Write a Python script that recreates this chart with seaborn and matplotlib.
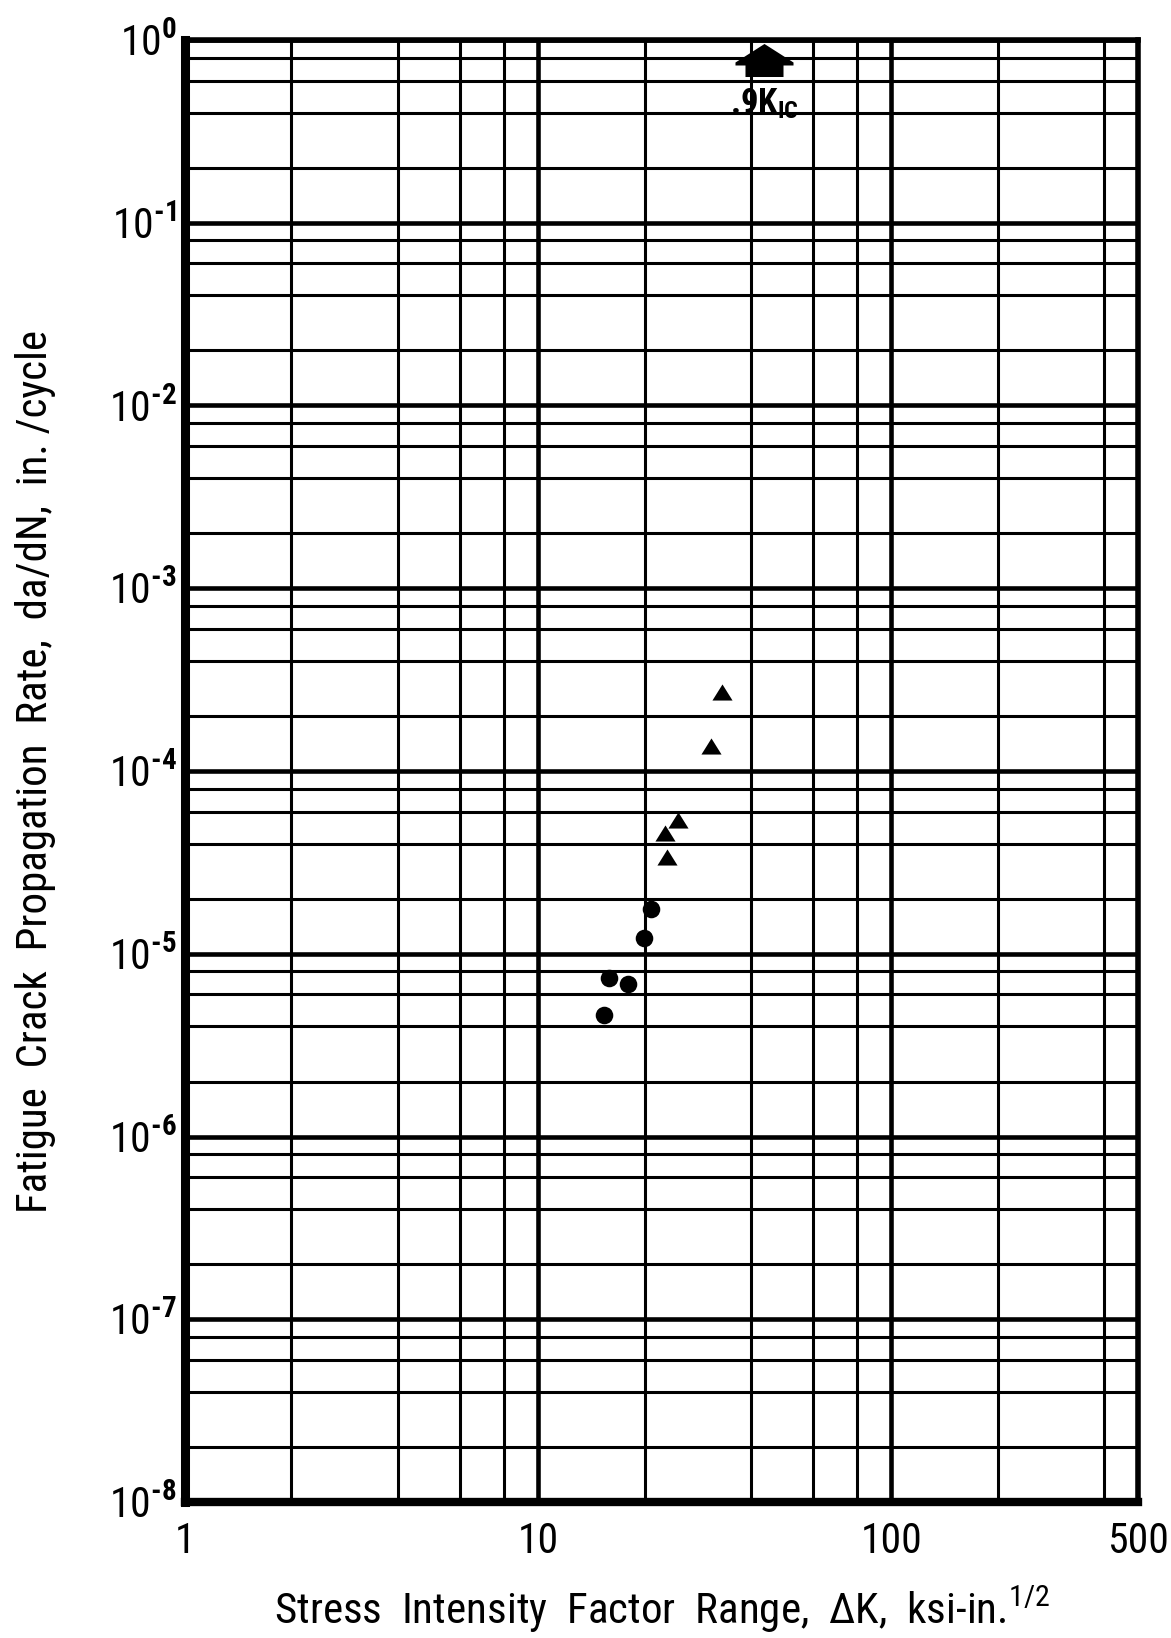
import numpy as np
import pandas as pd
import matplotlib
matplotlib.use("Agg")
import matplotlib.pyplot as plt
from matplotlib import font_manager
from matplotlib.path import Path
from matplotlib.ticker import FixedLocator, NullFormatter
import seaborn as sns

# Fatigue crack growth data, two test series
circle_dk = [15.4, 15.9, 18.0, 19.9, 20.9]
circle_rate = [4.6e-6, 7.4e-6, 6.8e-6, 1.22e-5, 1.75e-5]
triangle_dk = [23.1, 22.9, 24.9, 30.8, 33.1]
triangle_rate = [3.4e-5, 4.6e-5, 5.4e-5, 1.37e-4, 2.7e-4]

# 0.9 K_Ic limit marker
kic_dk = [43.6]
kic_rate = [0.78]
kic_label = ".9K$_{\\mathbf{IC}}$"

x_ticks = [1, 10, 100, 500]
x_ticklabels = ["1", "10", "100", "500"]
y_decades = list(range(0, -9, -1))
x_label = "Stress  Intensity  Factor  Range,  \u0394K,  ksi-in.$^{1/2}$"
y_label = "Fatigue  Crack  Propagation  Rate,  da/dN,  in. /cycle"

sns.set_theme(style="white")

# pick the narrowest sans face on the system
entries = font_manager.fontManager.ttflist
names = {f.name for f in entries}
face = None
for cand in ("Liberation Sans Narrow", "Roboto Condensed", "Open Sans Condensed",
             "DejaVu Sans Condensed", "Noto Sans Condensed"):
    if cand in names:
        face = cand
        break
if face is None:
    narrow = sorted(f.name for f in entries
                    if ("Condensed" in f.name or "Narrow" in f.name) and "CJK" not in f.name)
    face = narrow[0] if narrow else ("Roboto" if "Roboto" in names else "DejaVu Sans")

plt.rcParams["font.family"] = [face, "DejaVu Sans"]
plt.rcParams["text.color"] = "black"
plt.rcParams["xtick.color"] = "black"
plt.rcParams["ytick.color"] = "black"
plt.rcParams["axes.labelcolor"] = "black"
plt.rcParams["mathtext.fontset"] = "custom"
plt.rcParams["mathtext.rm"] = face
plt.rcParams["mathtext.it"] = face
plt.rcParams["mathtext.bf"] = face + ":bold"

fig = plt.figure(figsize=(11.71, 16.38), dpi=100)
ax = fig.add_axes([0.158, 0.083, 0.814, 0.8926])
ax.set_xscale("log")
ax.set_yscale("log")
ax.set_xlim(1, 500)
ax.set_ylim(1e-8, 1)

# grid: heavy decade lines, lighter 2-4-6-8 lines
x_minor = [m * 10 ** d for d in range(0, 3) for m in (2, 4, 6, 8) if m * 10 ** d < 500]
y_minor = [m * 10.0 ** d for d in range(-8, 0) for m in (2, 4, 6, 8)]
ax.xaxis.set_major_locator(FixedLocator(x_ticks))
ax.xaxis.set_minor_locator(FixedLocator(x_minor))
ax.yaxis.set_major_locator(FixedLocator([10.0 ** d for d in y_decades]))
ax.yaxis.set_minor_locator(FixedLocator(y_minor))
ax.xaxis.set_minor_formatter(NullFormatter())
ax.yaxis.set_minor_formatter(NullFormatter())
ax.grid(True, which="major", color="black", linewidth=3.3)
ax.grid(True, which="minor", color="black", linewidth=2.2)
ax.set_axisbelow(True)

ax.set_xticklabels(x_ticklabels, fontsize=30)
ax.set_yticklabels(["10$^{\\mathbf{\u2010%d}}$" % -d if d else "10$^{\\mathbf{0}}$"
                    for d in y_decades], fontsize=30)
ax.tick_params(axis="both", which="both", length=0)
ax.tick_params(axis="x", pad=14)
ax.tick_params(axis="y", pad=6)

for side, lw in (("left", 6.5), ("bottom", 6.0), ("top", 4.0), ("right", 4.0)):
    ax.spines[side].set_visible(True)
    ax.spines[side].set_color("black")
    ax.spines[side].set_linewidth(lw)

circles = pd.DataFrame({"dk": circle_dk, "rate": circle_rate})
triangles = pd.DataFrame({"dk": triangle_dk, "rate": triangle_rate})
kic = pd.DataFrame({"dk": kic_dk, "rate": kic_rate})

tri_marker = Path([(-1.0, -0.8), (1.0, -0.8), (0.0, 0.8), (-1.0, -0.8)],
                  [Path.MOVETO, Path.LINETO, Path.LINETO, Path.CLOSEPOLY])
house = Path([(0, 16.5), (29, -2), (29, -5), (19, -5), (19, -16.5), (-19, -16.5),
              (-19, -5), (-29, -5), (-29, -2), (0, 16.5)],
             [Path.MOVETO] + [Path.LINETO] * 8 + [Path.CLOSEPOLY])

sns.scatterplot(data=circles, x="dk", y="rate", ax=ax, marker="o", s=160,
                color="black", edgecolor="black", linewidth=0, zorder=5)
sns.scatterplot(data=triangles, x="dk", y="rate", ax=ax, marker=tri_marker, s=210,
                color="black", edgecolor="black", linewidth=0, zorder=5)
sns.scatterplot(data=kic, x="dk", y="rate", ax=ax, marker=house, s=1745,
                color="black", edgecolor="black", linewidth=0, zorder=5, clip_on=False)
ax.annotate(kic_label, xy=(kic_dk[0], kic_rate[0]), xytext=(0, -19),
            textcoords="offset points", ha="center", va="top", fontsize=25,
            fontweight="bold", zorder=6)

ax.set_xlabel(x_label, fontsize=31, labelpad=16)
ax.set_ylabel(y_label, fontsize=31, labelpad=38)

fig.savefig("out.png", dpi=100, facecolor="white")
